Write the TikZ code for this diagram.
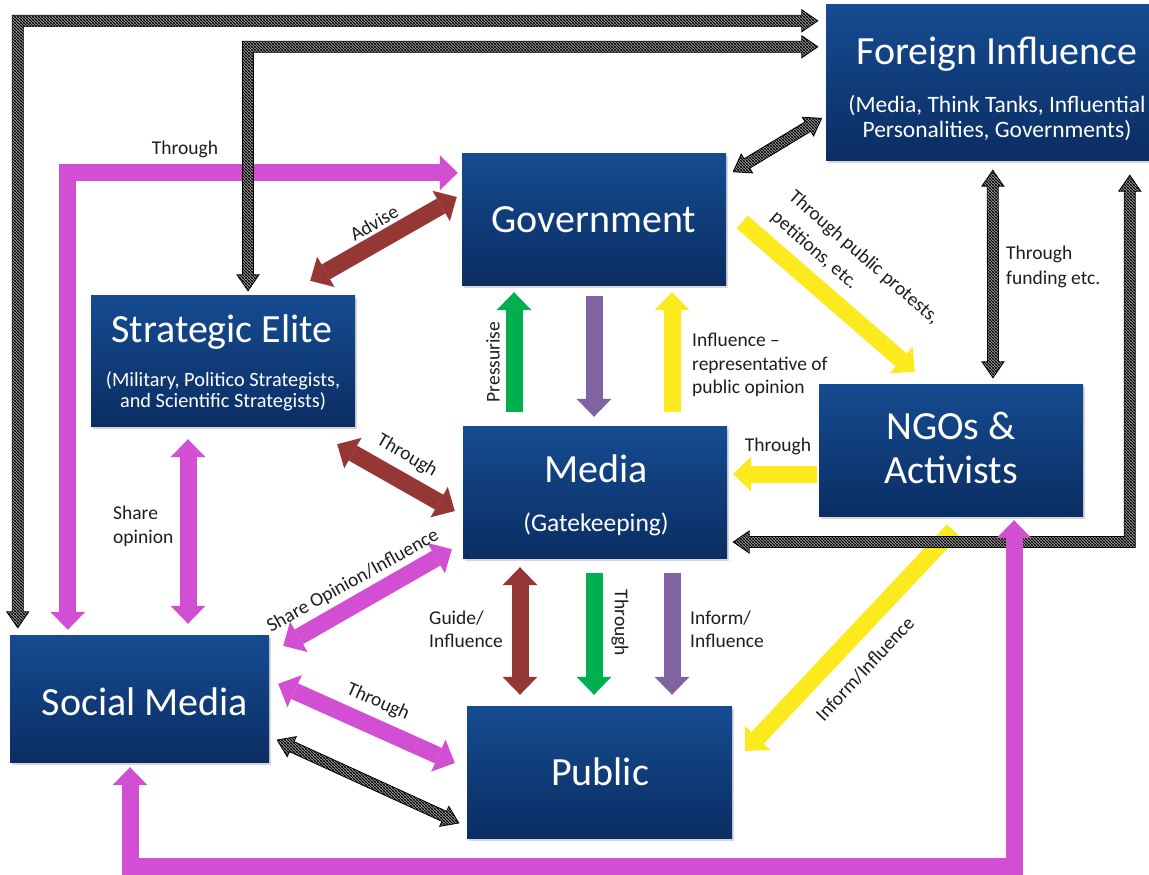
\documentclass[tikz,border=0pt]{standalone}
\usepackage{fontspec}
\setmainfont{Carlito}
\usetikzlibrary{arrows.meta,patterns,shadows,calc}

\definecolor{boxtop}{RGB}{21,76,145}
\definecolor{boxbot}{RGB}{11,45,99}
\definecolor{mag}{RGB}{210,79,212}
\definecolor{brn}{RGB}{149,55,53}
\definecolor{grn}{RGB}{0,176,80}
\definecolor{prp}{RGB}{128,100,162}
\definecolor{ylw}{RGB}{252,233,30}
\definecolor{ink}{RGB}{30,30,30}

% diagonal black/white hatching for the striped connectors
\pgfdeclarepatternformonly{hatch}{\pgfqpoint{-1pt}{-1pt}}{\pgfqpoint{4pt}{4pt}}{\pgfqpoint{3pt}{3pt}}{%
  \pgfsetlinewidth{1.35pt}%
  \pgfpathmoveto{\pgfqpoint{-0.5pt}{3.5pt}}%
  \pgfpathlineto{\pgfqpoint{3.5pt}{-0.5pt}}%
  \pgfusepath{stroke}}

% half shaft width, half head width, head length of striped arrows
\newcommand\stA{5.5}
\newcommand\stB{11}
\newcommand\stL{16}

\tikzset{
  box/.style={rectangle, draw=none, top color=boxtop, bottom color=boxbot,
    minimum width=264pt, minimum height=132pt, inner sep=0pt,
    drop shadow={shadow xshift=1.5pt, shadow yshift=-2.5pt, opacity=0.3}},
  ttl/.style={text=white, font=\fontsize{40}{46}\selectfont, inner sep=0pt, anchor=base},
  sub/.style={text=white, font=\fontsize{20.3}{23}\selectfont, inner sep=0pt, anchor=base},
  lbl/.style={text=ink, font=\fontsize{19.5}{24}\selectfont, inner sep=0pt},
  Big/.tip={Triangle[length=18pt,width=35pt,line width=0pt]},
  fat/.style={line width=17pt, line join=miter},
  one/.style={fat, -Big},
  two/.style={fat, Big-Big},
  hatched/.style={preaction={fill=white}, pattern=hatch, draw=black,
    line width=0.8pt, line join=miter},
  pics/hatcharrow/.style={code={
    \pgfmathsetmacro\hL{#1}
    \path[hatched] (0,0) -- (\stL,-\stB) -- (\stL,-\stA) -- ({\hL-\stL},-\stA)
      -- ({\hL-\stL},-\stB) -- (\hL,0) -- ({\hL-\stL},\stB) -- ({\hL-\stL},\stA)
      -- (\stL,\stA) -- (\stL,\stB) -- cycle;
  }},
}

% straight double-headed striped arrow between two named points
\newcommand\hatchline[2]{\path let \p1=($(#2)-(#1)$), \n1={atan2(\y1,\x1)},
  \n2={veclen(\x1,\y1)} in (#1) pic[rotate=\n1] {hatcharrow=\n2};}
% striped arrow: tip #1 pointing right, corner #2, tip #3 pointing down
\newcommand\hatchLdown[3]{\path[hatched] (#1) -- ($(#1)+(-\stL,-\stB)$)
  -- ($(#1)+(-\stL,-\stA)$) -- ($(#2)+(-\stA,-\stA)$) -- ($(#3)+(-\stA,-\stL)$)
  -- ($(#3)+(-\stB,-\stL)$) -- (#3) -- ($(#3)+(\stB,-\stL)$) -- ($(#3)+(\stA,-\stL)$)
  -- ($(#2)+(\stA,\stA)$) -- ($(#1)+(-\stL,\stA)$) -- ($(#1)+(-\stL,\stB)$) -- cycle;}
% striped arrow: tip #1 pointing left, corner #2, tip #3 pointing up
\newcommand\hatchLup[3]{\path[hatched] (#1) -- ($(#1)+(\stL,-\stB)$)
  -- ($(#1)+(\stL,-\stA)$) -- ($(#2)+(-\stA,-\stA)$) -- ($(#3)+(-\stA,\stL)$)
  -- ($(#3)+(-\stB,\stL)$) -- (#3) -- ($(#3)+(\stB,\stL)$) -- ($(#3)+(\stA,\stL)$)
  -- ($(#2)+(\stA,\stA)$) -- ($(#1)+(\stL,\stA)$) -- ($(#1)+(\stL,\stB)$) -- cycle;}

\begin{document}
\begin{tikzpicture}[x=1pt,y=-1pt]
\useasboundingbox (0,0) rectangle (1149,875);
\fill[white] (0,0) rectangle (1149,875);

% ---------- boxes ----------
\node[box, minimum width=342pt, minimum height=155pt] (fi) at (997,82.5) {};
\node[ttl] (fiT) at (997,65) {Foreign Influence};
\node[sub, font=\fontsize{23.5}{26}\selectfont] (fiS1) at (997,112) {(Media, Think Tanks, Influential};
\node[sub, font=\fontsize{23.5}{26}\selectfont] (fiS2) at (997,137) {Personalities, Governments)};

\node[box] (gov) at (594,219) {};
\node[ttl] (govT) at (594,232) {Government};

\node[box, minimum height=131pt] (se) at (223,360.5) {};
\node[ttl] (seT) at (222,342) {Strategic Elite};
\node[sub] (seS1) at (223,386) {(Military, Politico Strategists,};
\node[sub] (seS2) at (223,407) {and Scientific Strategists)};

\node[box] (media) at (595,492) {};
\node[ttl] (mediaT) at (596,482) {Media};
\node[sub, font=\fontsize{25.5}{28}\selectfont] (mediaS) at (596,531) {(Gatekeeping)};

\node[box] (ngo) at (951,450) {};
\node[ttl] (ngoT1) at (951,439) {NGOs \&};
\node[ttl] (ngoT2) at (951,483) {Activists};

\node[box, minimum width=259pt, minimum height=127pt] (sm) at (139.5,698.5) {};
\node[ttl] (smT) at (145,715) {Social Media};

\node[box, minimum width=265pt] (pub) at (599.5,772) {};
\node[ttl] (pubT) at (600,785) {Public};

% ---------- solid connectors ----------
\coordinate (m1a) at ($(sm.north west)+(58,-5)$);
\coordinate (m1b) at ($(gov.north west)+(-4,20)$);
\draw[mag, two] (m1a) -- (m1a |- m1b) -- (m1b);

\draw[mag, two] ($(se.south)+(-35,13)$) -- ($(sm.north)+(48.5,-11)$);
\draw[mag, two] ($(sm.north east)+(14,11)$) -- ($(media.south west)+(-11,-9)$);
\draw[mag, two] ($(sm.north east)+(9,49)$) -- ($(pub.west)+(-12,-9)$);

\draw[brn, two] ($(se.north east)+(-45,-14)$) -- ($(gov.west)+(-5,-22)$);
\draw[brn, two] ($(se.south east)+(-18,18)$) -- ($(media.west)+(-8,19)$);
\draw[brn, two] ($(media.south)+(-75,9)$) -- ($(pub.north)+(-79.5,-11)$);

\draw[grn, one] ($(media.south)+(-1,15)$) -- ($(pub.north)+(-5.5,-11)$);
\draw[prp, one] ($(media.south)+(77,15)$) -- ($(pub.north)+(72.5,-11)$);
\draw[grn, one] ($(media.north)+(-81,-14)$) -- ($(gov.south)+(-80,7)$);
\draw[prp, one] ($(gov.south)+(0,11)$) -- ($(media.north)+(-1,-9)$);
\draw[ylw, one] ($(media.north)+(77,-14)$) -- ($(gov.south)+(78,7)$);

\draw[ylw, one] ($(gov.east)+(16,3)$) -- ($(ngo.north west)+(96,-12)$);
\draw[ylw, one] ($(ngo.west)+(-2,24)$) -- ($(media.east)+(6,-18)$);
\draw[ylw, one] ($(ngo.south)+(2,14)$) -- ($(pub.east)+(13,-21)$);

% ---------- striped connectors ----------
\coordinate (s1a) at ($(fi.north west)+(-8,16)$);
\coordinate (s1b) at ($(sm.north west)+(8,-7)$);
\coordinate (s1k) at (s1b |- s1a);
\hatchLdown{s1a}{s1k}{s1b}

\coordinate (s2a) at ($(fi.north west)+(-8,42)$);
\coordinate (s2b) at ($(se.north)+(25,-4)$);
\coordinate (s2k) at (s2b |- s2a);
\hatchLdown{s2a}{s2k}{s2b}

\coordinate (s5a) at ($(media.east)+(6,50)$);
\coordinate (s5b) at ($(fi.south west)+(304,15)$);
\coordinate (s5k) at (s5b |- s5a);
\hatchLup{s5a}{s5k}{s5b}

\coordinate (s3a) at ($(gov.north east)+(7,19)$);
\coordinate (s3b) at ($(fi.south west)+(-4,-42)$);
\hatchline{s3a}{s3b}

\coordinate (s4a) at ($(fi.south west)+(167,10)$);
\coordinate (s4b) at ($(ngo.north)+(42,-6)$);
\hatchline{s4a}{s4b}

\coordinate (s6a) at ($(sm.east)+(8,41.5)$);
\coordinate (s6b) at ($(pub.west)+(-8,51)$);
\hatchline{s6a}{s6b}

% bottom loop from Social Media to NGOs, drawn over the striped band
\coordinate (m5a) at ($(sm.south)+(-9.5,5)$);
\coordinate (m5b) at ($(ngo.south)+(63,4)$);
\coordinate (m5c) at ($(sm.south)+(-9.5,104)$);
\draw[mag, two] (m5a) -- (m5c) -- (m5c -| m5b) -- (m5b);

% ---------- labels ----------
\node[lbl, anchor=base] (l1) at (185,154) {Through};
\node[lbl, rotate=30] (l2) at (374,223) {Advise};
\node[lbl, rotate=-30] (l3) at (407,456) {Through};
\node[lbl, anchor=base west] (l4a) at (113,519) {Share};
\node[lbl, anchor=base west] (l4b) at (113,543) {opinion};
\node[lbl, rotate=29] (l5) at (353,581) {Share Opinion/Influence};
\node[lbl, rotate=-24] (l6) at (378,702) {Through};
\node[lbl, anchor=base west] (l7a) at (429,624) {Guide/};
\node[lbl, anchor=base west] (l7b) at (429,647) {Influence};
\node[lbl, rotate=-90] (l8) at (620,623) {Through};
\node[lbl, anchor=base west] (l9a) at (690,624) {Inform/};
\node[lbl, anchor=base west] (l9b) at (690,647) {Influence};
\node[lbl, rotate=90] (l10) at (493,362) {Pressurise};
\node[lbl, anchor=base west] (l11a) at (692,346) {Influence –};
\node[lbl, anchor=base west] (l11b) at (692,370) {representative of};
\node[lbl, anchor=base west] (l11c) at (692,393) {public opinion};
\node[lbl, anchor=base] (l12) at (778,451) {Through};
\node[lbl, anchor=base west] (l13a) at (1006,259) {Through};
\node[lbl, anchor=base west] (l13b) at (1006,284) {funding etc.};
\node[lbl, rotate=-41, align=left] (l14) at (855,268) {Through public protests,\\[3pt]petitions, etc.};
\node[lbl, rotate=47] (l15) at (865,669) {Inform/Influence};
\end{tikzpicture}
\end{document}
